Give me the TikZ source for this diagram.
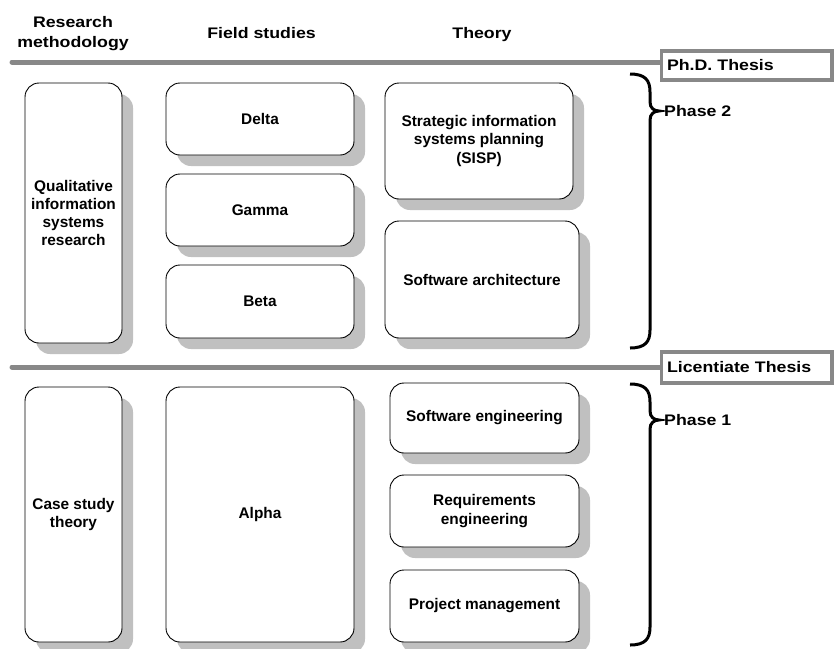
\documentclass[tikz,border=0pt]{standalone}
\usepackage{fontspec}
\setmainfont{Liberation Sans}
\newfontfamily\wideface{Liberation Sans}[FakeStretch=1.16]
\usetikzlibrary{shadows,backgrounds}
\definecolor{rulegray}{HTML}{888888}
\definecolor{shadowgray}{HTML}{C0C0C0}
\begin{document}
\begin{tikzpicture}[x=1pt,y=-1pt,
  box/.style={draw, line width=0.9pt, rounded corners=14pt, fill=white, align=center,
    inner sep=0pt, font=\bfseries\fontsize{15.4}{18.3}\selectfont,
    drop shadow={shadow xshift=11pt, shadow yshift=-11pt, fill=shadowgray, opacity=1}},
  hdr/.style={align=center, inner sep=0pt, font=\wideface\bfseries\fontsize{15.3}{20}\selectfont},
  thesisbox/.style={draw=rulegray, line width=3.5pt, fill=white, align=left, text width=159.5pt,
    inner xsep=5.5pt, inner ysep=0pt, font=\wideface\bfseries\fontsize{15.3}{18}\selectfont},
  lbl/.style={inner sep=0pt, anchor=west, font=\wideface\bfseries\fontsize{15.3}{18}\selectfont},
  grayrule/.style={draw=rulegray, line width=5pt, line cap=round},
  bracepath/.style={draw=black, line width=3pt}
]
\useasboundingbox (0,0) rectangle (834,648);

% headers
\node[hdr] (hrm) at (73,34) {Research\\methodology};
\node[hdr, anchor=base] (hfs) at (261.5,38.3) {Field studies};
\node[hdr, anchor=base] (hth) at (482,38.3) {Theory};

% thesis boxes and rules
\node[thesisbox, minimum height=29pt] (phd) at (746.75,65.5) {Ph.D. Thesis};
\node[thesisbox, minimum height=31pt] (lic) at (746.75,367.5) {Licentiate Thesis};
\coordinate (r1) at (12,62);
\coordinate (r2) at (12,367);
\begin{scope}[on background layer]
\draw[grayrule] (r1) -- (r1 -| phd.west);
\draw[grayrule] (r2) -- (r2 -| lic.west);
\end{scope}

% phase 2 boxes
\node[box, minimum width=97pt, minimum height=260pt] (qual) at (73.5,213) {Qualitative\\information\\systems\\research};
\node[box, minimum width=188pt, minimum height=72pt] (delta) at (260,119) {Delta};
\node[box, minimum width=188pt, minimum height=72pt] (gamma) at (260,210) {Gamma};
\node[box, minimum width=188pt, minimum height=73pt] (beta) at (260,301.5) {Beta};
\node[box, minimum width=188pt, minimum height=116pt] (sisp) at (479,141) {Strategic information\\systems planning\\(SISP)};
\node[box, minimum width=194pt, minimum height=117pt] (swarch) at (482,279.5) {Software architecture};

% phase 1 boxes
\node[box, minimum width=97pt, minimum height=255pt] (case) at (73.5,514.5) {Case study\\theory};
\node[box, minimum width=188pt, minimum height=255pt] (alpha) at (260,514.5) {Alpha};
\node[box, minimum width=189pt, minimum height=70pt] (sweng) at (484.5,418) {Software engineering};
\node[box, minimum width=189pt, minimum height=72pt] (reqeng) at (484.5,511) {Requirements\\engineering};
\node[box, minimum width=189pt, minimum height=72pt] (projman) at (484.5,606) {Project management};

% braces
\draw[bracepath] (630,74) .. controls (645,74) and (650,80) .. (650,92) -- (650,102)
  .. controls (650,108) and (654,111) .. (659,111)
  .. controls (654,111) and (650,114) .. (650,120) -- (650,330)
  .. controls (650,342) and (645,348) .. (630,348);
\draw[bracepath] (630,384) .. controls (645,384) and (650,390) .. (650,402) -- (650,411)
  .. controls (650,417) and (654,420) .. (659,420)
  .. controls (654,420) and (650,423) .. (650,429) -- (650,627)
  .. controls (650,639) and (645,645) .. (630,645);

\node[lbl] (ph2) at (664,111) {Phase 2};
\node[lbl] (ph1) at (664,420) {Phase 1};
\end{tikzpicture}
\end{document}
